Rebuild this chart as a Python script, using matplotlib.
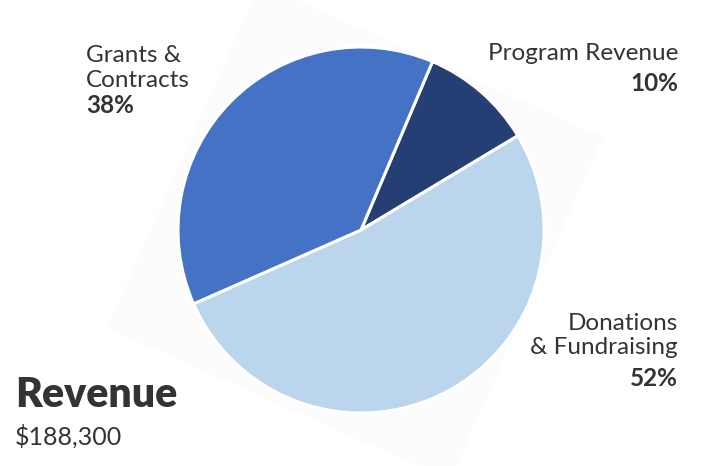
import matplotlib.pyplot as plt
from matplotlib.patches import Polygon

# data
categories = ["Program Revenue", "Donations\n& Fundraising", "Grants &\nContracts"]
shares = [10, 52, 38]
colors = ["#253f75", "#bbd5ec", "#4472c4"]
title = "Revenue"
total = "$188,300"

W, H = 718, 466
fig = plt.figure(figsize=(W / 100, H / 100), dpi=100)
fig.patch.set_facecolor("white")
plt.rcParams['font.family'] = ['Lato', 'DejaVu Sans']


def fx(x):
    return x / W


def fy(y):
    return 1 - y / H


# faint rotated square behind the pie
bg = Polygon([(fx(260), fy(-16)), (fx(603), fy(137)), (fx(450), fy(480)), (fx(107), fy(328))],
             closed=True, transform=fig.transFigure, facecolor="#fcfcfc",
             edgecolor="none", zorder=0)
fig.patches.append(bg)

# pie, center ~ (361, 230) px, radius ~183 px
cx, cy, r = 361, 230, 183
ax = fig.add_axes([fx(cx - r), fy(cy + r), 2 * r / W, 2 * r / H])
ax.set_zorder(2)
ax.patch.set_alpha(0)
ax.pie(shares, colors=colors, startangle=67, counterclock=False,
       wedgeprops=dict(edgecolor="white", linewidth=2.2))
ax.set_xlim(-1, 1)
ax.set_ylim(-1, 1)
ax.set_aspect("auto")
ax.axis("off")

tc = "#333333"
fs = 17.5


def put_label(x, baselines, name, share, ha):
    lines = name.split("\n")
    for line, yb in zip(lines, baselines[:-1]):
        fig.text(fx(x), fy(yb), line, ha=ha, va="baseline", fontsize=fs, color=tc)
    fig.text(fx(x), fy(baselines[-1]), f"{share}%", ha=ha, va="baseline",
             fontsize=fs, color=tc, fontweight="bold")


put_label(678, [59.5, 91], categories[0], shares[0], "right")
put_label(678, [330, 354, 386], categories[1], shares[1], "right")
put_label(86, [62, 87, 113], categories[2], shares[2], "left")

# title and total
fig.text(fx(15), fy(407), title, ha="left", va="baseline", fontsize=29.5,
         color=tc, fontweight="heavy")
fig.text(fx(15), fy(445), total, ha="left", va="baseline", fontsize=18,
         color=tc)

fig.savefig("out.png", dpi=100, facecolor="white")
